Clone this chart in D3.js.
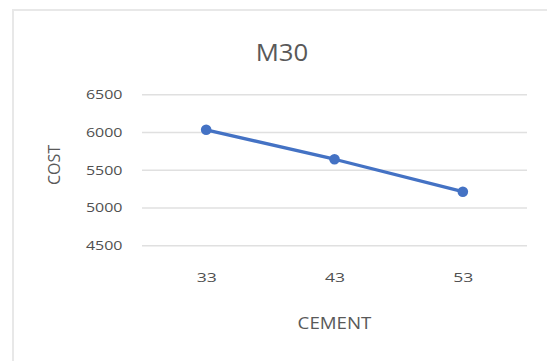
<!DOCTYPE html>
<html>
<head>
<meta charset="utf-8">
<script src="https://cdn.jsdelivr.net/npm/d3@7"></script>
<style>
  html, body { margin: 0; padding: 0; background: #fff; }
  svg { display: block; }
  text { font-family: "Open Sans", "Liberation Sans", sans-serif; fill: #595959; }
</style>
</head>
<body>
<svg id="chart" width="547" height="361"></svg>
<script>
// Chart data
const categories = ["33", "43", "53"];
const costValues = [6030, 5640, 5210];
const yTicks = [4500, 5000, 5500, 6000, 6500];
const chartTitle = "M30";
const xTitle = "CEMENT";
const yTitle = "COST";

const W = 547, H = 361;
const plot = { left: 142, right: 527, top: 94.3, bottom: 245.3 };
const lineColor = "#4472C4";

const svg = d3.select("#chart");

// Chart area outline
svg.append("rect")
  .attr("x", 13).attr("y", 10)
  .attr("width", W).attr("height", H)
  .attr("fill", "#fff")
  .attr("stroke", "#e8e8e8")
  .attr("stroke-width", 2);

const x = d3.scalePoint()
  .domain(categories)
  .range([plot.left, plot.right])
  .padding(0.5);

const y = d3.scaleLinear()
  .domain([d3.min(yTicks), d3.max(yTicks)])
  .range([plot.bottom, plot.top]);

// Text helper with a slight horizontal widening of the glyphs
function label(g, str, px, py, size, anchor, sx, extra) {
  return g.append("text")
    .attr("transform", `translate(${px},${py}) scale(${sx},1)${extra || ""}`)
    .attr("text-anchor", anchor)
    .style("font-size", size + "px")
    .text(str);
}

// Gridlines + y tick labels via d3 axis
const yAxis = d3.axisLeft(y)
  .tickValues(yTicks)
  .tickSize(-(plot.right - plot.left))
  .tickFormat("");
const gy = svg.append("g")
  .attr("transform", `translate(${plot.left},0)`)
  .call(yAxis);
gy.select(".domain").remove();
gy.selectAll(".tick line").attr("stroke", "#e0e0e0").attr("stroke-width", 1.5);
gy.selectAll(".tick").each(function(d) {
  label(d3.select(this), String(d), -19.5, 4.3, 12.5, "end", 1.28)
    .style("fill", "#505050");
});

// x tick labels
const xAxis = d3.axisBottom(x).tickSize(0).tickFormat("");
const gx = svg.append("g")
  .attr("transform", `translate(0,${plot.bottom})`)
  .call(xAxis);
gx.select(".domain").remove();
gx.selectAll(".tick").each(function(d) {
  label(d3.select(this), d, 0, 36.5, 13, "middle", 1.35)
    .style("fill", "#505050");
});

// Series line
const line = d3.line()
  .x((d, i) => x(categories[i]))
  .y(d => y(d));

svg.append("path")
  .datum(costValues)
  .attr("d", line)
  .attr("fill", "none")
  .attr("stroke", lineColor)
  .attr("stroke-width", 3.3)
  .attr("stroke-linejoin", "round");

svg.selectAll("circle.pt")
  .data(costValues)
  .join("circle")
  .attr("class", "pt")
  .attr("cx", (d, i) => x(categories[i]))
  .attr("cy", d => y(d))
  .attr("r", 5.3)
  .attr("fill", lineColor);

// Titles
label(svg, chartTitle, 282, 61, 23, "middle", 1.12);
label(svg, xTitle, (plot.left + plot.right) / 2, 329, 16, "middle", 1.17);
svg.append("text")
  .attr("transform", `translate(60,165) rotate(-90)`)
  .attr("text-anchor", "middle")
  .style("font-size", "16px")
  .text(yTitle);
</script>
</body>
</html>
